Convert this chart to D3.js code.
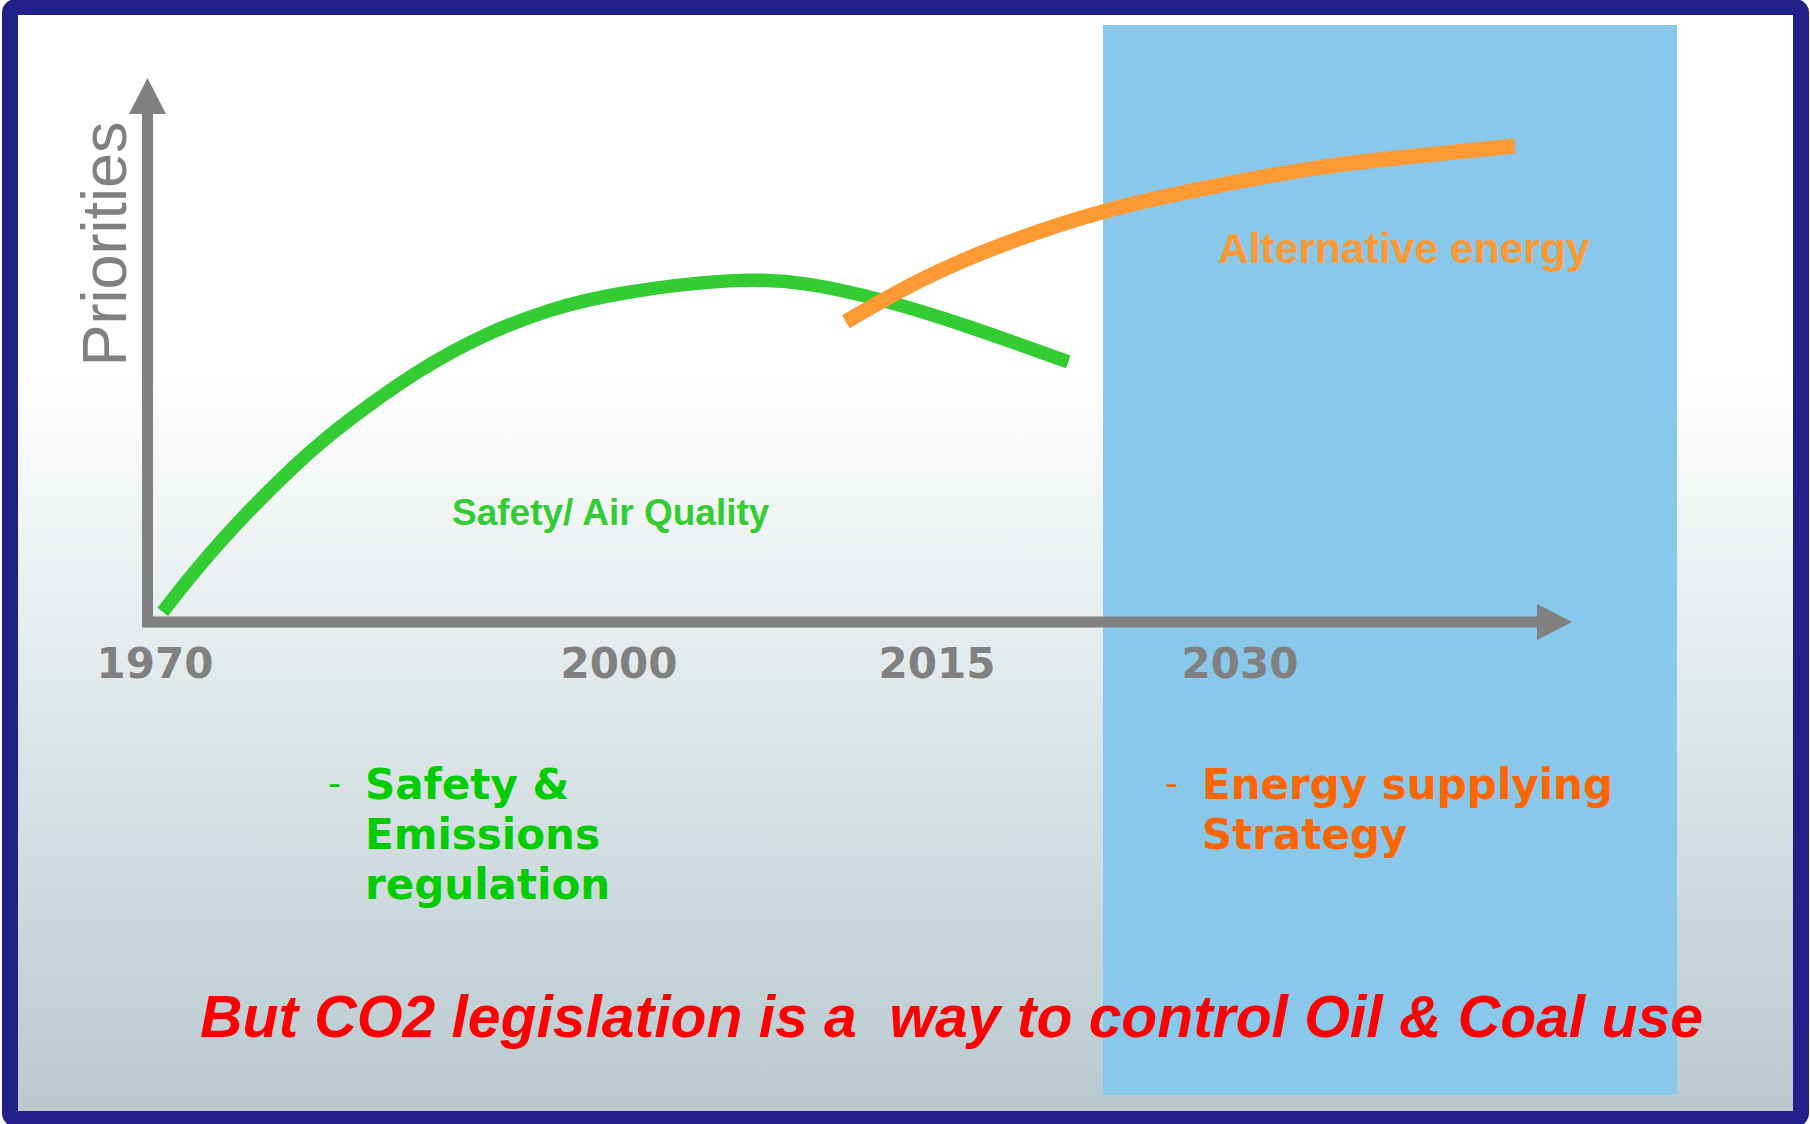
<!DOCTYPE html>
<html>
<head>
<meta charset="utf-8">
<script src="https://cdn.jsdelivr.net/npm/d3@7"></script>
<style>
  html, body { margin: 0; padding: 0; background: #fff; }
  svg { display: block; }
  text { white-space: pre; }
</style>
</head>
<body>
<div id="chart"></div>
<script>
// years shown on the time axis
var tickYears = [1970, 2000, 2015, 2030];

// "Safety/ Air Quality" priority curve
var safetyYears = [1970.5, 1973.9, 1979.4, 1982.6, 1986.9, 1991.2, 1995.5, 1999.7, 2005.6, 2008.9, 2012.5, 2016.1, 2021.5];
var safetyValues = [2.0, 15.2, 32.2, 40.0, 49.4, 56.6, 61.6, 64.8, 67.8, 66.9, 63.4, 58.9, 51.2];

// "Alternative energy" priority curve
var energyYears = [2010.7, 2014.2, 2018.1, 2023.2, 2028.7, 2034.0, 2039.4, 2043.6];
var energyValues = [59.1, 67.6, 74.3, 81.2, 85.8, 89.8, 92.0, 93.7];

var W = 1810, H = 1124;
var grey = '#808080';

var svg = d3.select('#chart')
  .append('svg')
  .attr('width', W)
  .attr('height', H);

var defs = svg.append('defs');
var grad = defs.append('linearGradient')
  .attr('id', 'bg')
  .attr('x1', 0).attr('y1', 0).attr('x2', 0).attr('y2', 1);
grad.append('stop').attr('offset', '0%').attr('stop-color', '#ffffff');
grad.append('stop').attr('offset', '33%').attr('stop-color', '#ffffff');
grad.append('stop').attr('offset', '100%').attr('stop-color', '#b7c9cf');

// slide background
svg.append('rect')
  .attr('x', 10).attr('y', 7)
  .attr('width', 1791).attr('height', 1112)
  .attr('fill', 'url(#bg)');

// future band
svg.append('rect')
  .attr('x', 1103).attr('y', 25)
  .attr('width', 574).attr('height', 1070)
  .attr('fill', '#89c7eb');

// scales: the time axis is not evenly spaced on the slide
var x = d3.scaleLinear()
  .domain(tickYears)
  .range([155, 619, 937, 1240]);
var y = d3.scaleLinear()
  .domain([0, 100])
  .range([622, 114]);

// axes drawn as arrows
var axes = svg.append('g').attr('class', 'axes');
axes.append('line')
  .attr('x1', 147.5).attr('y1', y(100))
  .attr('x2', 147.5).attr('y2', y(0) + 5)
  .attr('stroke', grey).attr('stroke-width', 11);
axes.append('polygon')
  .attr('points', [[129, y(100)], [147.5, 78], [166, y(100)]].join(' '))
  .attr('fill', grey);
axes.append('line')
  .attr('x1', 142).attr('y1', y(0))
  .attr('x2', 1538).attr('y2', y(0))
  .attr('stroke', grey).attr('stroke-width', 11);
axes.append('polygon')
  .attr('points', [[1537, y(0) - 18], [1572, y(0)], [1537, y(0) + 18]].join(' '))
  .attr('fill', grey);

axes.selectAll('.tick')
  .data(tickYears)
  .enter().append('text')
  .attr('class', 'tick')
  .attr('x', function(d) { return x(d); })
  .attr('y', 678)
  .attr('text-anchor', 'middle')
  .style('font-family', 'Verdana, "DejaVu Sans", sans-serif')
  .style('font-weight', 'bold')
  .style('font-size', '42px')
  .attr('fill', grey)
  .text(function(d) { return d; });

svg.append('text')
  .attr('transform', 'translate(126,244) rotate(-90)')
  .attr('text-anchor', 'middle')
  .style('font-family', '"Liberation Sans", Arial, sans-serif')
  .style('font-size', '63px')
  .attr('fill', grey)
  .text('Priorities');

// curves
var line = d3.line()
  .x(function(d) { return x(d[0]); })
  .y(function(d) { return y(d[1]); })
  .curve(d3.curveBasis);

var safety = safetyYears.map(function(yr, i) { return [yr, safetyValues[i]]; });
var energy = energyYears.map(function(yr, i) { return [yr, energyValues[i]]; });

svg.append('path')
  .datum(safety)
  .attr('d', line)
  .attr('fill', 'none')
  .attr('stroke', '#33cc33')
  .attr('stroke-width', 13.5);

svg.append('path')
  .datum(energy)
  .attr('d', line)
  .attr('fill', 'none')
  .attr('stroke', '#ff9933')
  .attr('stroke-width', 15);

// curve labels
svg.append('text')
  .attr('x', 452).attr('y', 525)
  .style('font-family', '"Liberation Sans", Arial, sans-serif')
  .style('font-weight', 'bold')
  .style('font-size', '37px')
  .attr('fill', '#33cc33')
  .text('Safety/ Air Quality');

svg.append('text')
  .attr('x', 1218).attr('y', 263)
  .style('font-family', '"Liberation Sans", Arial, sans-serif')
  .style('font-weight', 'bold')
  .style('font-size', '42.6px')
  .attr('fill', '#ff9933')
  .text('Alternative energy');

// bullet blocks
function bullet(x0, lines, color) {
  var g = svg.append('g');
  g.append('text')
    .attr('x', x0).attr('y', 795)
    .style('font-family', 'Verdana, "DejaVu Sans", sans-serif')
    .style('font-size', '36px')
    .attr('fill', color)
    .text('-');
  g.selectAll('.ln')
    .data(lines)
    .enter().append('text')
    .attr('class', 'ln')
    .attr('x', x0 + 37)
    .attr('y', function(d, i) { return 799 + i * 50; })
    .style('font-family', 'Verdana, "DejaVu Sans", sans-serif')
    .style('font-weight', 'bold')
    .style('font-size', '42px')
    .attr('fill', color)
    .text(function(d) { return d; });
}
bullet(328, ['Safety &', 'Emissions', 'regulation'], '#00cc00');
bullet(1165, ['Energy supplying', 'Strategy'], '#ff6600');

svg.append('text')
  .attr('x', 200).attr('y', 1037)
  .style('font-family', '"Liberation Sans", Arial, sans-serif')
  .style('font-weight', 'bold')
  .style('font-style', 'italic')
  .style('font-size', '58.8px')
  .attr('fill', '#ff0000')
  .text('But CO2 legislation is a  way to control Oil & Coal use');

// frame
svg.append('rect')
  .attr('x', 10).attr('y', 7)
  .attr('width', 1791).attr('height', 1112)
  .attr('rx', 6)
  .attr('fill', 'none')
  .attr('stroke', '#202089')
  .attr('stroke-width', 16);
</script>
</body>
</html>
